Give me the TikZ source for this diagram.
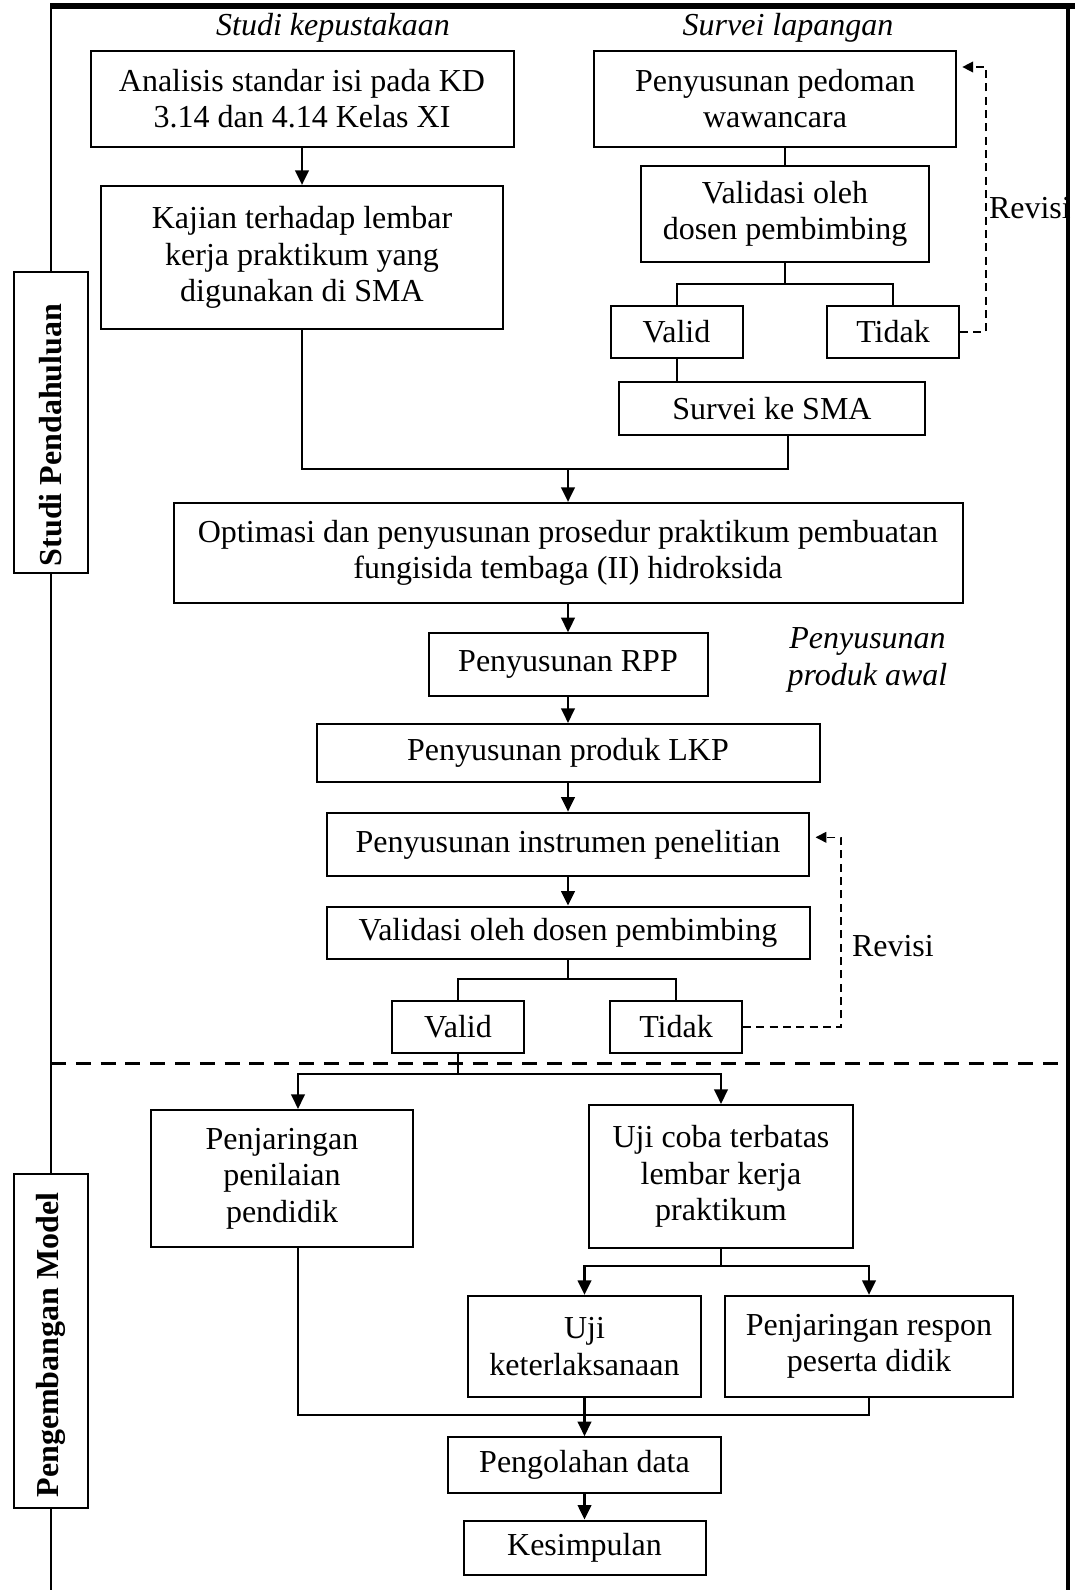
\documentclass[tikz,border=0pt]{standalone}
\usepackage{fontspec}
\setmainfont{Liberation Serif}
\usetikzlibrary{arrows.meta}

\begin{document}
\begin{tikzpicture}[x=0.375pt,y=-0.375pt,line width=0.75pt,
	font=\fontsize{12}{13.7}\selectfont,
	box/.style 2 args={draw, align=center, inner sep=0pt, minimum width=#1*0.375pt, minimum height=#2*0.375pt},
	side/.style={draw, rotate=90, inner sep=0pt, font=\fontsize{12}{13.7}\selectfont\bfseries, minimum width=#1*0.375pt, minimum height=74*0.375pt},
	head/.style={align=center, font=\fontsize{12}{13.7}\selectfont\itshape},
	arr/.style={line width=1.1pt, -{Triangle[length=5.5pt,width=5pt]}},
	rev/.style={line width=0.5pt, dash pattern=on 3pt off 2pt, -{Triangle[length=4pt,width=4pt]}, shorten >=2pt},
	sep/.style={line width=1pt, dash pattern=on 5.6pt off 3.7pt}]
	\useasboundingbox (0,0) rectangle (1075,1590);
	% frame and side labels
	\draw[line width=1.9pt] (50,6) -- (1075,6);
	\draw[line width=1.5pt] (1068,6) -- (1068,1590);
	\node[side=301] (lbl1) at (50.5,422.6) {Studi Pendahuluan\hspace*{9.3pt}};
	\node[side=334] (lbl2) at (50.5,1341) {Pengembangan Model\hspace*{3pt}};
	\draw (50.5,6) -- (lbl1.east);
	\draw (lbl1.west) -- (lbl2.east);
	\draw (lbl2.west) -- (50.5,1590);
	\draw[sep] (51,1063.3) -- (1068,1063.3);
	% headings
	\node[head] (hlib) at (333,28) {Studi kepustakaan};
	\node[head] (hsrv) at (788,28) {Survei lapangan};
	\node[head] (hprd) at (867.5,660) {Penyusunan\\produk awal};
	% studi kepustakaan
	\node[box={423}{96}] (anl) at (302,98.7) {Analisis standar isi pada KD\\3.14 dan 4.14 Kelas XI};
	\node[box={402.5}{143}] (kaj) at (302,257.5) {Kajian terhadap lembar\\kerja praktikum yang\\digunakan di SMA};
	\draw[arr] (anl) -- (kaj);
	% survei lapangan
	\node[box={362}{96}] (pdm) at (775,98.7) {Penyusunan pedoman\\wawancara};
	\node[box={288}{96.6}] (vld) at (785,214) {Validasi oleh\\dosen pembimbing};
	\node[box={132}{52}] (val) at (676.5,332) {Valid};
	\node[box={132}{52}] (tdk) at (893,332) {Tidak};
	\node[box={306.5}{53.3}] (srv) at (772,408.4) {Survei ke SMA};
	\node[anchor=west, inner sep=0pt] (rv1) at (988,208) {Revisi};
	\draw (vld.north) -- (vld.north |- pdm.south);
	\coordinate (jn2) at (785,284);
	\draw (vld.south) -- (jn2);
	\draw (val.north) |- (jn2) -| (tdk.north);
	\coordinate (rv1c) at (986,67);
	\draw[rev] (tdk.east) -| (rv1c) -- (rv1c -| pdm.east);
	\draw (val.south) -- (val.south |- srv.north);
	% gabungan
	\coordinate (jn1) at (568,469.3);
	\coordinate (jn1r) at (788,469.3);
	\draw (kaj.south) |- (jn1r) -- (jn1r |- srv.south);
	\node[box={789}{100}] (opt) at (568,553) {Optimasi dan penyusunan prosedur praktikum pembuatan\\fungisida tembaga (II) hidroksida};
	\draw[arr] (jn1) -- (opt);
	% penyusunan produk awal
	\node[box={279}{62.7}] (rpp) at (568,664.7) {Penyusunan RPP};
	\node[box={503}{57.7}] (lkp) at (568,752.9) {Penyusunan produk LKP};
	\node[box={482.5}{63.3}] (ins) at (568,844.4) {Penyusunan instrumen penelitian};
	\node[box={483}{52.6}] (vdp) at (568,933) {Validasi oleh dosen pembimbing};
	\node[box={132.5}{52.6}] (vl2) at (458,1027) {Valid};
	\node[box={132}{52.6}] (td2) at (676,1027) {Tidak};
	\node[anchor=west, inner sep=0pt] (rv2) at (851,946) {Revisi};
	\draw[arr] (opt) -- (rpp);
	\draw[arr] (rpp) -- (lkp);
	\draw[arr] (lkp) -- (ins);
	\draw[arr] (ins) -- (vdp);
	\coordinate (jn3) at (568,979.3);
	\draw (vdp.south) -- (jn3);
	\draw (vl2.north) |- (jn3) -| (td2.north);
	\coordinate (rv2c) at (841,837.3);
	\draw[rev] (td2.east) -| (rv2c) -- (rv2c -| ins.east);
	% pengembangan model
	\node[box={261.5}{136.7}] (pnl) at (282,1178.4) {Penjaringan\\penilaian\\pendidik};
	\node[box={264.5}{143.3}] (ujc) at (721,1176.7) {Uji coba terbatas\\lembar kerja\\praktikum};
	\node[box={233}{100.7}] (ujk) at (584.5,1346.3) {Uji\\keterlaksanaan};
	\node[box={287.6}{100.7}] (rsp) at (869,1346.3) {Penjaringan respon\\peserta didik};
	\node[box={273}{55.4}] (olh) at (584.5,1465) {Pengolahan data};
	\node[box={242}{54.3}] (smp) at (584.5,1547.8) {Kesimpulan};
	\coordinate (jn4) at (458,1074);
	\coordinate (jn4l) at (298,1074);
	\draw (vl2.south) -- (jn4);
	\draw[arr] (jn4) -- (jn4l) -- (jn4l |- pnl.north);
	\draw[arr] (jn4) -| (ujc.north);
	\coordinate (jn5) at (721,1266);
	\draw (ujc.south) -- (jn5);
	\draw[arr] (jn5) -| (ujk.north);
	\draw[arr] (jn5) -| (rsp.north);
	\coordinate (jn6) at (298,1415);
	\draw (pnl.south -| jn6) |- (rsp.south |- jn6) -- (rsp.south);
	\draw[arr] (ujk) -- (olh);
	\draw[arr] (olh) -- (smp);
\end{tikzpicture}
\end{document}
